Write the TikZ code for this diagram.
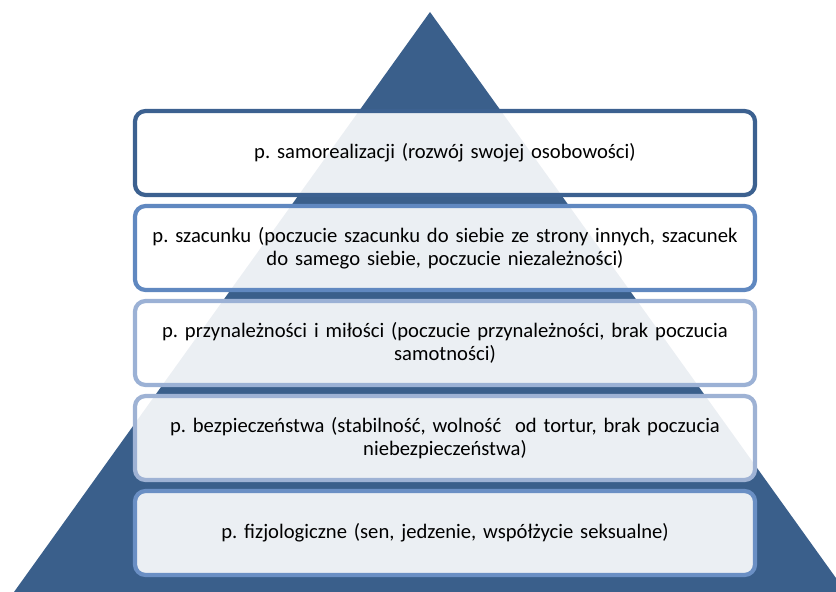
\documentclass[tikz,border=0pt]{standalone}
\usepackage{fontspec}
\setmainfont{Carlito}
\usetikzlibrary{positioning}
\definecolor{pyramidfill}{HTML}{3A5F8B}
\definecolor{levelA}{HTML}{3C6190}
\definecolor{levelB}{HTML}{6088C0}
\definecolor{levelC}{HTML}{9BB1D5}
\definecolor{levelD}{HTML}{9EB2D4}
\definecolor{levelE}{HTML}{6A8FC4}
\frenchspacing
\begin{document}
\begin{tikzpicture}[x=0.03cm,y=-0.03cm,font=\fontsize{17.6}{20}\selectfont,
level/.style={draw=#1,fill=white,fill opacity=.9,text opacity=1,rounded corners=9pt,line width=3.6pt,minimum width=18.6cm,minimum height=2.52cm,text width=18.4cm,align=center,inner sep=0pt}]
\useasboundingbox (0,0) rectangle (836,592);
\fill[pyramidfill] (430,12) -- (846,592) -- (14,592) -- cycle;
\node[level=levelA] (selfreal) at (445,153) {p. samorealizacji (rozwój swojej osobowości)};
\node[level=levelB] (esteem) at (445,248) {p. szacunku (poczucie szacunku do siebie ze strony innych, szacunek\\do samego siebie, poczucie niezależności)};
\node[level=levelC] (belong) at (445,343) {p. przynależności i miłości (poczucie przynależności, brak poczucia\\samotności)};
\node[level=levelD] (safety) at (445,438) {p. bezpieczeństwa (stabilność, wolność\ \ od tortur, brak poczucia\\niebezpieczeństwa)};
\node[level=levelE] (physio) at (445,533) {p. fizjologiczne (sen, jedzenie, współżycie seksualne)};
\end{tikzpicture}
\end{document}
